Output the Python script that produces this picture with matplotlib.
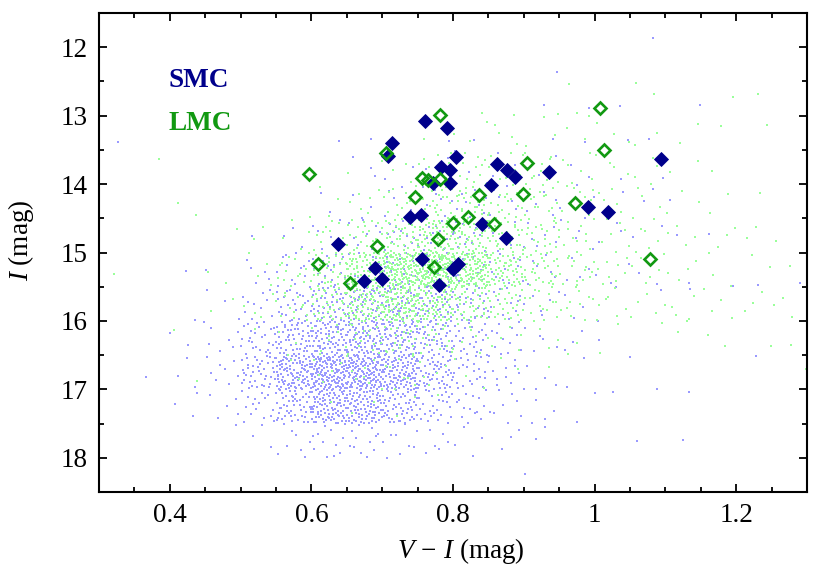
import numpy as np
import matplotlib
matplotlib.use("Agg")
import matplotlib.pyplot as plt
from matplotlib.ticker import MultipleLocator, FuncFormatter

# ---------------- data ----------------
# Bright stars (diamonds)
smc_vi = [0.714, 0.708, 0.739, 0.755, 0.637, 0.690, 0.674, 0.700, 0.760, 0.756,
          0.791, 0.804, 0.783, 0.796, 0.796, 0.772, 0.862, 0.876, 0.887, 0.936,
          0.853, 1.094, 0.990, 1.019, 0.841, 0.875, 0.800, 0.807, 0.780]
smc_i = [13.40, 13.59, 14.48, 14.45, 14.87, 15.22, 15.41, 15.39, 13.08, 15.10,
         13.18, 13.61, 13.75, 13.80, 13.99, 13.98, 13.70, 13.80, 13.89, 13.83,
         14.01, 13.64, 14.33, 14.41, 14.58, 14.79, 15.24, 15.17, 15.48]

lmc_vi = [0.596, 0.705, 0.747, 0.692, 0.610, 0.654, 0.782, 1.008, 1.013, 0.905,
          0.756, 0.764, 0.781, 0.836, 0.899, 0.973, 0.821, 0.800, 0.858, 0.779,
          0.773, 1.078]
lmc_i = [13.85, 13.54, 14.19, 14.91, 15.17, 15.44, 12.99, 12.89, 13.50, 13.69,
         13.91, 13.94, 13.93, 14.16, 14.14, 14.27, 14.48, 14.57, 14.58, 14.80,
         15.21, 15.10]

# Background field stars: number of dots per cell (V-I bins of 0.05 from 0.30,
# I bins of 0.5 mag from 11.5).
vi_bin_edges = [0.30, 0.35, 0.40, 0.45, 0.50, 0.55, 0.60, 0.65, 0.70, 0.75, 0.80,
                0.85, 0.90, 0.95, 1.00, 1.05, 1.10, 1.15, 1.20, 1.25, 1.30]
i_bin_edges = [11.5, 12.0, 12.5, 13.0, 13.5, 14.0, 14.5, 15.0, 15.5, 16.0,
               16.5, 17.0, 17.5, 18.0, 18.5]

smc_field_counts = [
    [0, 0, 0, 0, 0, 0, 0, 0, 0, 0, 0, 0, 0, 0, 0, 1, 0, 0, 0, 0],
    [0, 0, 0, 0, 0, 0, 0, 0, 0, 0, 0, 0, 1, 0, 0, 0, 0, 0, 0, 0],
    [0, 0, 0, 0, 0, 0, 0, 0, 0, 0, 0, 0, 1, 1, 1, 0, 1, 0, 0, 0],
    [1, 0, 0, 0, 0, 0, 1, 1, 0, 1, 1, 0, 1, 1, 1, 1, 0, 0, 0, 0],
    [0, 0, 0, 0, 0, 0, 0, 3, 2, 3, 3, 3, 3, 2, 1, 1, 0, 0, 0, 0],
    [0, 0, 0, 0, 0, 0, 2, 3, 5, 8, 8, 6, 5, 4, 2, 2, 1, 0, 0, 0],
    [0, 0, 0, 0, 1, 3, 6, 9, 13, 16, 13, 8, 6, 4, 3, 2, 1, 1, 0, 0],
    [0, 0, 1, 1, 5, 12, 18, 22, 26, 25, 17, 11, 6, 4, 3, 2, 1, 1, 1, 1],
    [0, 0, 1, 3, 10, 24, 40, 48, 46, 38, 24, 12, 6, 3, 2, 1, 1, 0, 0, 0],
    [0, 0, 3, 6, 26, 55, 72, 78, 68, 45, 24, 12, 5, 3, 1, 0, 0, 0, 0, 0],
    [0, 1, 3, 8, 40, 95, 135, 130, 95, 52, 24, 11, 4, 2, 1, 0, 0, 0, 1, 0],
    [0, 0, 3, 5, 16, 52, 88, 82, 54, 26, 14, 8, 4, 2, 1, 1, 1, 0, 0, 0],
    [0, 0, 0, 1, 3, 7, 12, 12, 9, 6, 4, 3, 2, 0, 0, 1, 1, 0, 0, 0],
    [0, 0, 0, 0, 0, 0, 0, 0, 0, 0, 0, 0, 1, 0, 0, 0, 0, 0, 0, 0],
]

lmc_field_counts = [
    [0, 0, 0, 0, 0, 0, 0, 0, 0, 0, 0, 0, 0, 0, 0, 0, 0, 0, 0, 0],
    [0, 0, 0, 0, 0, 0, 0, 0, 0, 0, 0, 0, 0, 0, 0, 0, 0, 0, 0, 0],
    [0, 0, 0, 0, 0, 0, 0, 0, 0, 0, 1, 1, 1, 2, 0, 2, 0, 1, 1, 0],
    [0, 0, 0, 0, 0, 0, 0, 0, 0, 2, 3, 4, 3, 3, 3, 2, 2, 1, 1, 0],
    [0, 1, 0, 0, 0, 0, 0, 2, 4, 10, 12, 12, 10, 6, 4, 3, 2, 1, 0, 0],
    [0, 0, 2, 0, 0, 1, 3, 6, 12, 25, 27, 21, 16, 10, 6, 5, 3, 2, 1, 0],
    [0, 0, 0, 1, 2, 4, 11, 22, 38, 55, 50, 32, 20, 12, 7, 6, 4, 3, 2, 1],
    [1, 0, 0, 2, 4, 13, 34, 72, 128, 160, 115, 55, 28, 15, 8, 6, 4, 3, 2, 1],
    [0, 0, 0, 2, 4, 13, 34, 68, 90, 70, 42, 26, 15, 10, 7, 5, 4, 4, 3, 3],
    [0, 0, 1, 0, 1, 3, 8, 16, 22, 16, 8, 5, 3, 2, 2, 1, 2, 2, 1, 1],
    [0, 0, 1, 0, 0, 2, 5, 8, 8, 5, 3, 2, 1, 0, 0, 0, 0, 0, 0, 1],
    [0, 0, 0, 0, 0, 0, 1, 2, 2, 1, 0, 0, 0, 0, 0, 0, 0, 0, 0, 0],
    [0, 0, 0, 0, 0, 0, 0, 0, 0, 0, 0, 0, 0, 0, 0, 0, 0, 0, 0, 0],
    [0, 0, 0, 0, 0, 0, 0, 0, 0, 0, 0, 0, 0, 0, 0, 0, 0, 0, 0, 0],
]

x_ticks = [0.4, 0.6, 0.8, 1.0, 1.2]
y_ticks = [12, 13, 14, 15, 16, 17, 18]


def radical_inverse(idx, base):
    out = np.zeros(len(idx))
    f = 1.0 / base
    i = np.array(idx, dtype=np.int64)
    while np.any(i > 0):
        out += f * (i % base)
        i //= base
        f /= base
    return out


def spread_in_cells(counts, offset):
    """Deterministic, evenly spread placement of the counted dots in each cell
    (segments of a Halton sequence, no random numbers)."""
    xs, ys = [], []
    start = offset
    for r, row in enumerate(counts):
        for c, n in enumerate(row):
            if n == 0:
                continue
            idx = np.arange(start, start + n)
            start += n + 17
            u = radical_inverse(idx, 2)
            v = radical_inverse(idx, 3)
            x0, x1 = vi_bin_edges[c], vi_bin_edges[c + 1]
            y0, y1 = i_bin_edges[r], i_bin_edges[r + 1]
            xs.append(x0 + u * (x1 - x0))
            ys.append(y0 + v * (y1 - y0))
    return np.concatenate(xs), np.concatenate(ys)


# ---------------- figure ----------------
plt.rcParams["font.family"] = ["Liberation Serif", "DejaVu Serif"]
plt.rcParams["mathtext.fontset"] = "custom"
plt.rcParams["mathtext.rm"] = "Liberation Serif"
plt.rcParams["mathtext.it"] = "Liberation Serif:italic"
plt.rcParams["mathtext.bf"] = "Liberation Serif:bold"

FS = 19.5

fig = plt.figure(figsize=(8.3, 5.81), dpi=100)
ax = fig.add_axes([0.1193, 0.1532, 0.853, 0.8244])

sx, sy = spread_in_cells(smc_field_counts, 101)
lx, ly = spread_in_cells(lmc_field_counts, 5003)
ax.scatter(sx, sy, s=3.8, marker="s", color="#9a9aff", linewidths=0, zorder=1)
ax.scatter(lx, ly, s=3.8, marker="s", color="#9aff9a", linewidths=0, zorder=2)

ax.plot(smc_vi, smc_i, linestyle="none", marker="D", ms=7.0,
        mfc="#00008b", mec="#00008b", mew=0.6, zorder=3)
ax.plot(lmc_vi, lmc_i, linestyle="none", marker="D", ms=6.4,
        mfc="none", mec="#119911", mew=1.9, zorder=4)

ax.text(0.0975, 0.86, "SMC", transform=ax.transAxes, color="#00008b",
        fontsize=FS, fontweight="bold", va="center", ha="left")
ax.text(0.0975, 0.77, "LMC", transform=ax.transAxes, color="#119911",
        fontsize=FS, fontweight="bold", va="center", ha="left")

ax.set_xlim(0.3, 1.3)
ax.set_ylim(18.5, 11.5)
ax.set_xticks(x_ticks)
ax.set_yticks(y_ticks)
ax.xaxis.set_minor_locator(MultipleLocator(0.05))
ax.yaxis.set_minor_locator(MultipleLocator(0.5))
ax.xaxis.set_major_formatter(FuncFormatter(lambda v, p: "%g" % v))
ax.yaxis.set_major_formatter(FuncFormatter(lambda v, p: "%g" % v))
ax.tick_params(which="both", direction="in", top=True, right=True,
               labelsize=FS, width=1.3, colors="black")
ax.tick_params(which="major", length=6, pad=8)
ax.tick_params(which="minor", length=3.5)
for sp in ax.spines.values():
    sp.set_linewidth(1.5)

ax.set_xlabel(r"$V\,-\,I$ (mag)", fontsize=FS)
ax.set_ylabel(r"$I$ (mag)", fontsize=FS)
ax.xaxis.set_label_coords(0.511, -0.092)
ax.yaxis.set_label_coords(-0.089, 0.526)

fig.savefig("out.png", dpi=100)
